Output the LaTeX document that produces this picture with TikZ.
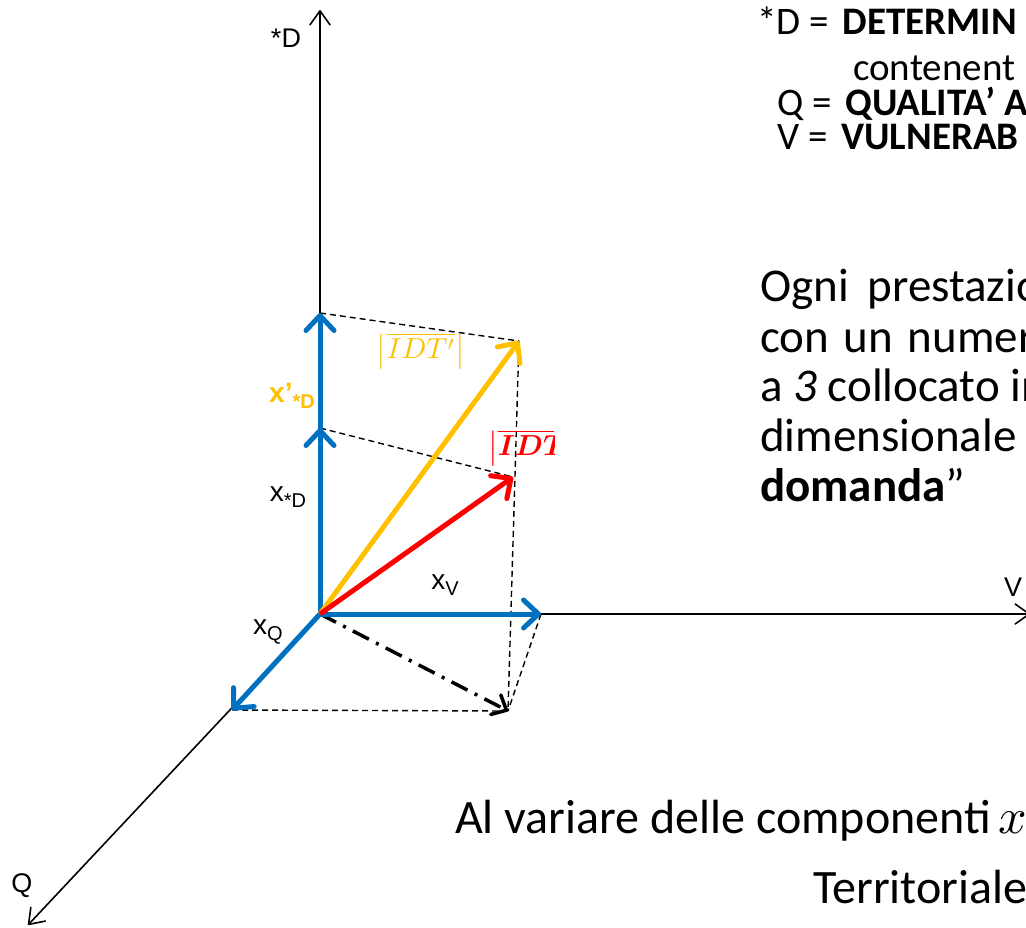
\documentclass[tikz,border=0pt]{standalone}
\usepackage{amsmath,bm}
\usepackage{fontspec}
\setmainfont{Carlito}
\newfontfamily\arialf{Liberation Sans}
\usetikzlibrary{arrows.meta}
\definecolor{myblue}{HTML}{0070C0}
\definecolor{myyellow}{HTML}{FFC000}
\definecolor{myred}{HTML}{FF0000}
\newcommand{\fs}[1]{\fontsize{#1}{#1}\selectfont}
\newcommand{\lab}[2]{{\arialf\fs{28}#1\raisebox{-6pt}{\fs{20}#2}}}
\tikzset{
  axisline/.style={line width=1.6pt,-{Straight Barb[length=14pt,width=20pt,round]}},
  vecblue/.style={line width=5pt,myblue,-{Straight Barb[length=15pt,width=28pt,round]}},
  vecyellow/.style={line width=5pt,myyellow,-{Straight Barb[length=15pt,width=28pt,round]}},
  vecred/.style={line width=5pt,myred,-{Straight Barb[length=15pt,width=28pt,round]}},
  proj/.style={line width=1.4pt,dash pattern=on 6pt off 4pt},
  dashdotarrow/.style={line width=3.5pt,dash pattern=on 18pt off 8pt on 3pt off 8pt,-{Straight Barb[length=12pt,width=22pt,round]}},
  axlab/.style={font=\arialf\fs{27}},
  txt/.style={anchor=base west,inner sep=0pt}
}
\begin{document}
\begin{tikzpicture}[x=1pt,y=-1pt]
\useasboundingbox (0,0) rectangle (1026,927);
\clip (0,0) rectangle (1026,927);
% coordinates
\coordinate (O) at (320,614);
\coordinate (Dtop) at (320,10);
\coordinate (Vend) at (1030,614);
\coordinate (Qend) at (28,925);
\coordinate (Dx) at (320,428);
\coordinate (Dxp) at (320,313);
\coordinate (Vx) at (541,614);
\coordinate (Qx) at (232,710);
\coordinate (Y) at (519,341);
\coordinate (R) at (513,477);
\coordinate (P) at (508,711);
% axes
\draw[axisline] (O) -- (Dtop);
\draw[axisline] (O) -- (Vend);
\draw[axisline] (O) -- (Qend);
\node[axlab] (lD) at (286,38) {*D};
\node[axlab] (lV) at (1013,587) {V};
\node[axlab] (lQ) at (22,886) {Q};
% projections
\draw[proj] (Dxp) -- (Y);
\draw[proj] (Dx) -- (R);
\draw[proj] (Y) -- (P);
\draw[proj] (Qx) -- (P);
\draw[proj] (Vx) -- (P);
\draw[dashdotarrow] (O) -- (P);
% vectors
\draw[vecblue] (O) -- (Dxp);
\draw[vecblue] (O) -- (Dx);
\draw[vecblue] (O) -- (Vx);
\draw[vecblue] (O) -- (Qx);
\draw[vecyellow] (O) -- (Y);
\draw[vecred] (O) -- (R);
% labels
\node (lxD) at (288,497) {\lab{x}{*D}};
\node[text=myyellow] (lxpD) at (292,396) {\bfseries\lab{x’}{*D}};
\node (lxV) at (445,585) {\lab{x}{V}};
\node (lxQ) at (268,632) {\lab{x}{Q}};
\node[text=myyellow,scale=2.9] (lIDTp) at (421,351) {$\left|\overline{IDT'}\right|$};
\begin{scope}
\clip (480,420) rectangle (554,470);
\node[text=myred,anchor=west,scale=2.9] (lIDT) at (478,448) {$\left|\overline{\bm{IDT}}\right|$};
\end{scope}
% header text
\node[txt] (h1) at (757,34) {\fs{39}*D =\hspace{5pt} \textbf{DETERMIN}};
\node[txt] (h2) at (853,80) {\fs{39}contenent};
\node[txt] (h3) at (777,115) {\fs{39}Q =\hspace{5pt} \textbf{QUALITA’ A}};
\node[txt] (h4) at (777,149) {\fs{39}V =\hspace{5pt} \textbf{VULNERAB}};
% body text
\node[txt] (b1) at (760,301) {\fs{47}Ogni\hspace{8pt} prestazio};
\node[txt] (b2) at (760,352) {\fs{47}con\hspace{4pt} un\hspace{4pt} numero};
\node[txt] (b3) at (760,401) {\fs{47}a \textit{3} collocato in};
\node[txt] (b4) at (760,451) {\fs{47}dimensionale};
\node[txt] (b5) at (760,501) {\fs{47}\textbf{domanda}”};
% bottom text
\node[txt] (c1) at (455,833) {\fs{48}Al variare delle componenti\,\scalebox{5}{\normalsize$x$}};
\node[txt] (c2) at (813,903) {\fs{48}Territoriale};
\end{tikzpicture}
\end{document}
